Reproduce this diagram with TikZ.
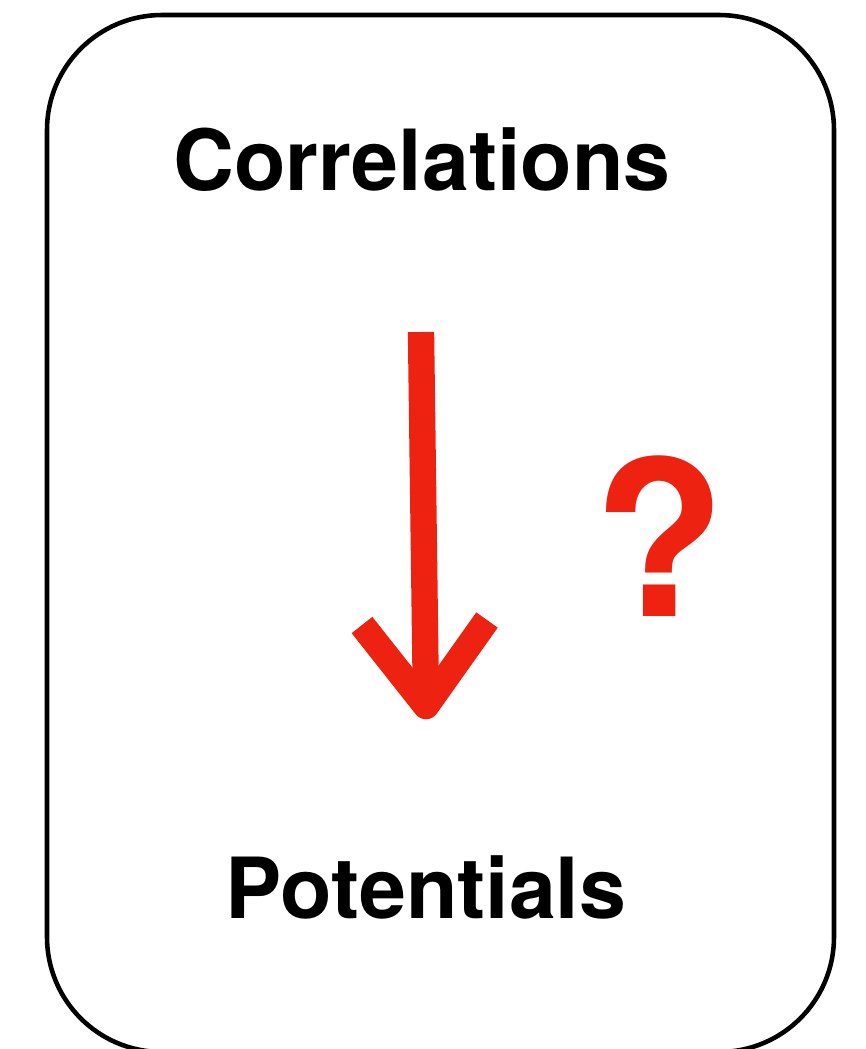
\documentclass[tikz,border=0pt]{standalone}
\usepackage{fontspec}
\setmainfont{TeX Gyre Heros}
\usetikzlibrary{positioning}

\begin{document}
\begin{tikzpicture}[
    x={(0.02cm,0cm)}, y={(0cm,-0.02cm)},
    every node/.style={inner sep=0pt, font=\bfseries\fontsize{48}{58}\selectfont},
    crayon/.style={crayonred, line width=15pt, line join=round},
  ]
    \definecolor{crayonred}{HTML}{EE2211}
    \definecolor{boxline}{HTML}{000000}
    \clip (0,0) rectangle (866,1049);

    % ---- frame ----
    \draw[boxline, line width=2.6pt, rounded corners=2.3cm]
      (47,15) rectangle (834,1052);

    % ---- labels ----
    \node[anchor=base] (corr) at (422,190) {Correlations};
    \node[anchor=base] (pot) at (426,918) {Potentials};
    \node[anchor=base, crayonred, font=\bfseries\fontsize{123}{140}\selectfont]
      (quest) at (660,616) {?};

    % ---- arrow ----
    \coordinate (shafttop) at (421,332);
    \coordinate (tip) at (426,706);
    \coordinate (armleft) at (362,625);
    \coordinate (armright) at (487,620);
    \draw[crayon] (shafttop) -- (tip);
    \draw[crayon] (armleft) -- (tip) -- (armright);
\end{tikzpicture}
\end{document}
